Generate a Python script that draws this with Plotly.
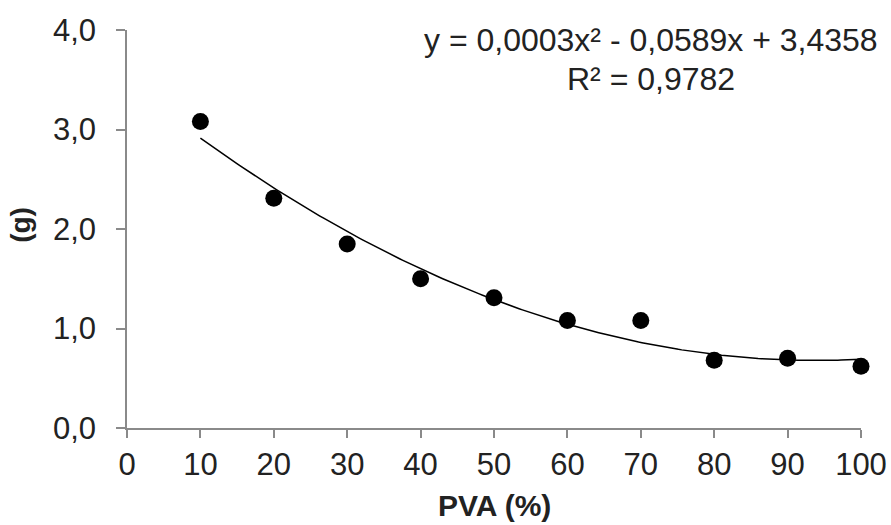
import numpy as np
import plotly.graph_objects as go

# Data
pva = [10, 20, 30, 40, 50, 60, 70, 80, 90, 100]
mass_g = [3.08, 2.31, 1.85, 1.50, 1.31, 1.08, 1.08, 0.68, 0.70, 0.62]

x_tick_vals = [0, 10, 20, 30, 40, 50, 60, 70, 80, 90, 100]
x_tick_text = ["0", "10", "20", "30", "40", "50", "60", "70", "80", "90", "100"]
y_tick_vals = [0, 1, 2, 3, 4]
y_tick_text = ["0,0", "1,0", "2,0", "3,0", "4,0"]

equation_line = "y = 0,0003x² - 0,0589x + 3,4358"
r2_line = "R² = 0,9782"

# Quadratic trendline fitted to the data
coef = np.polyfit(pva, mass_g, 2)
xs = np.linspace(min(pva), max(pva), 200)
ys = np.polyval(coef, xs)

FONT = "Liberation Sans, Arial, sans-serif"
AXIS_COLOR = "#8a8a8a"
TEXT_COLOR = "#222222"

fig = go.Figure()
fig.add_trace(go.Scatter(x=xs, y=ys, mode="lines",
                         line=dict(color="black", width=1.5),
                         hoverinfo="skip", showlegend=False))
fig.add_trace(go.Scatter(x=pva, y=mass_g, mode="markers",
                         marker=dict(color="black", size=17),
                         cliponaxis=False, showlegend=False))

fig.update_layout(
    width=891, height=525,
    margin=dict(l=127, r=30, t=30, b=97, autoexpand=False),
    paper_bgcolor="white", plot_bgcolor="white",
    font=dict(family=FONT, size=31, color=TEXT_COLOR),
    xaxis=dict(range=[0, 100], tickvals=x_tick_vals, ticktext=x_tick_text,
               showgrid=False, zeroline=False, showline=True,
               linecolor=AXIS_COLOR, linewidth=1.5, automargin=False,
               ticks="outside", ticklen=8, tickcolor=AXIS_COLOR, tickwidth=1.5,
               tickfont=dict(family=FONT, size=31, color=TEXT_COLOR)),
    yaxis=dict(range=[0, 4], tickvals=y_tick_vals, ticktext=y_tick_text,
               showgrid=False, zeroline=False, showline=True,
               linecolor=AXIS_COLOR, linewidth=1.5, automargin=False,
               ticks="outside", ticklen=9, tickcolor=AXIS_COLOR, tickwidth=1.5,
               ticklabelstandoff=14,
               tickfont=dict(family=FONT, size=31, color=TEXT_COLOR)),
    annotations=[
        dict(text="<b>PVA (%)</b>", xref="paper", yref="paper",
             x=0.5, y=-0.194, xanchor="center", yanchor="middle",
             showarrow=False, font=dict(family=FONT, size=30, color=TEXT_COLOR)),
        dict(text="<b>(g)</b>", xref="paper", yref="paper",
             x=-0.146, y=0.510, xanchor="center", yanchor="middle",
             textangle=-90, showarrow=False,
             font=dict(family=FONT, size=28, color=TEXT_COLOR)),
        dict(text=equation_line, xref="paper", yref="paper",
             x=0.714, y=0.975, xanchor="center", yanchor="middle",
             showarrow=False, font=dict(family=FONT, size=32, color=TEXT_COLOR)),
        dict(text=r2_line, xref="paper", yref="paper",
             x=0.714, y=0.877, xanchor="center", yanchor="middle",
             showarrow=False, font=dict(family=FONT, size=32, color=TEXT_COLOR)),
    ],
)

fig.write_html("out.html",
               config={"displayModeBar": False},
               post_script="document.body.style.margin='0';document.body.style.overflow='hidden';")
